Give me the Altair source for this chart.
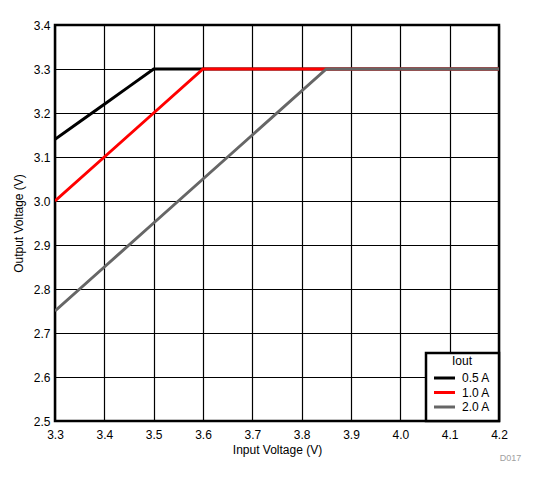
import pandas as pd
import altair as alt

# Iout = 0.5 A
vin_05 = [3.3, 3.35, 3.4, 3.45, 3.5, 3.6, 3.85, 4.2]
vout_05 = [3.14, 3.18, 3.22, 3.26, 3.3, 3.3, 3.3, 3.3]
# Iout = 1.0 A
vin_10 = [3.3, 3.4, 3.5, 3.6, 3.85, 4.2]
vout_10 = [3.0, 3.1, 3.2, 3.3, 3.3, 3.3]
# Iout = 2.0 A
vin_20 = [3.3, 3.4, 3.5, 3.6, 3.7, 3.85, 4.2]
vout_20 = [2.75, 2.85, 2.95, 3.05, 3.15, 3.3, 3.3]

series = ['0.5 A', '1.0 A', '2.0 A']
colors = ['#000000', '#ff0000', '#666666']
x_ticks = [3.3, 3.4, 3.5, 3.6, 3.7, 3.8, 3.9, 4.0, 4.1, 4.2]
y_ticks = [2.5, 2.6, 2.7, 2.8, 2.9, 3.0, 3.1, 3.2, 3.3, 3.4]

frames = []
for name, xs, ys in zip(series, [vin_05, vin_10, vin_20], [vout_05, vout_10, vout_20]):
    frames.append(pd.DataFrame({'vin': xs, 'vout': ys, 'Iout': name}))
data = pd.concat(frames, ignore_index=True)
data['order'] = data.index

font = 'Liberation Sans'

chart = alt.Chart(data).mark_line(strokeWidth=3, clip=True).encode(
    x=alt.X('vin:Q', title='Input Voltage (V)')
        .scale(domain=[3.3, 4.2], nice=False, zero=False)
        .axis(values=x_ticks, format='.1f', labelFlush=False, labelPadding=8, titlePadding=4),
    y=alt.Y('vout:Q', title='Output Voltage (V)')
        .scale(domain=[2.5, 3.4], nice=False, zero=False)
        .axis(values=y_ticks, format='.1f', labelPadding=5, titlePadding=8),
    color=alt.Color('Iout:N', title='Iout')
        .scale(domain=series, range=colors)
        .legend(orient='bottom-right', offset=0, symbolType='M-3,0H3',
                symbolSize=49, symbolStrokeWidth=3, symbolOffset=4.5,
                titleAnchor='middle', titleBaseline='middle', labelOffset=11.5),
    order='order:Q'
).properties(
    width=444,
    height=396,
    autosize=alt.AutoSizeParams(type='none'),
    padding={'left': 47, 'top': 17, 'right': 30, 'bottom': 54},
    title=alt.TitleParams('D017', orient='bottom', anchor='end', fontSize=9,
                          color='#a0a0a0', fontWeight='normal', font=font,
                          dx=14, offset=-1)
).configure_view(
    stroke='black', strokeWidth=2.5
).configure_axis(
    grid=True, gridColor='black', gridWidth=1.2, gridOpacity=1,
    domain=False, ticks=False,
    labelFont=font, labelFontSize=12, labelColor='black',
    titleFont=font, titleFontSize=12, titleColor='black', titleFontWeight='normal'
).configure_legend(
    fillColor='white', strokeColor='black', strokeWidth=2.5, padding=8,
    labelFont=font, labelFontSize=12, labelColor='black',
    titleFont=font, titleFontSize=12, titleColor='black', titleFontWeight='normal',
    rowPadding=2.5, titlePadding=-1
)

chart.save("out.html", embed_options={"renderer": "svg", "actions": False})
